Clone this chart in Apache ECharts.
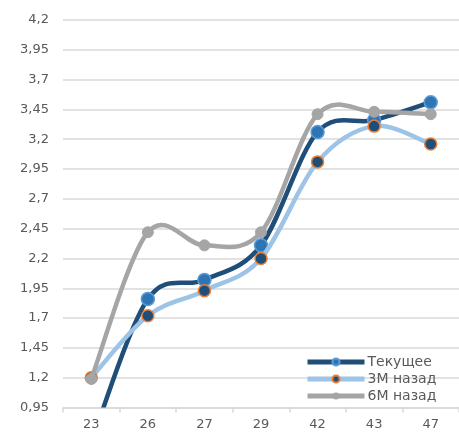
<!DOCTYPE html>
<html>
<head>
<meta charset="utf-8">
<script src="https://cdn.jsdelivr.net/npm/echarts@6/dist/echarts.min.js"></script>
<style>
  html, body { margin: 0; padding: 0; background: #fff; }
  #chart { width: 459px; height: 432px; }
</style>
</head>
<body>
<div id="chart"></div>
<script>
// Maturity buckets along the x axis
const categories = ['23', '26', '27', '29', '42', '43', '47'];

// Yield curves: current, three months ago, six months ago
const current = [0.66, 1.86, 2.02, 2.31, 3.26, 3.36, 3.51];
const threeMonthsAgo = [1.2, 1.72, 1.93, 2.2, 3.01, 3.31, 3.16];
const sixMonthsAgo = [1.19, 2.42, 2.31, 2.42, 3.41, 3.43, 3.41];

const seriesNames = ['Текущее', '3М назад', '6М назад'];

const chart = echarts.init(document.getElementById('chart'), null, { renderer: 'canvas' });

const font = '"DejaVu Sans", sans-serif';

// Catmull-Rom spline through the points, one cubic segment per data item,
// positioned with the chart's own axes via api.coord.
function splineSegments(values, color, width) {
  const n = values.length;
  const at = k => {
    const j = Math.max(0, Math.min(n - 1, k));
    return [j, values[j]];
  };
  return function (params, api) {
    const i = params.dataIndex;
    if (i >= n - 1) return null;
    const p0 = api.coord(at(i - 1));
    const p1 = api.coord(at(i));
    const p2 = api.coord(at(i + 1));
    const p3 = api.coord(at(i + 2));
    return {
      type: 'bezierCurve',
      shape: {
        x1: p1[0], y1: p1[1],
        x2: p2[0], y2: p2[1],
        cpx1: p1[0] + (p2[0] - p0[0]) / 6,
        cpy1: p1[1] + (p2[1] - p0[1]) / 6,
        cpx2: p2[0] - (p3[0] - p1[0]) / 6,
        cpy2: p2[1] - (p3[1] - p1[1]) / 6
      },
      style: { stroke: color, lineWidth: width, fill: 'none', lineCap: 'round', lineJoin: 'round' }
    };
  };
}

function curveSeries(name, values, color, z) {
  return {
    name: name,
    type: 'custom',
    clip: true,
    silent: true,
    z: z,
    data: values.map((v, i) => [i, v]),
    encode: { x: 0, y: 1 },
    renderItem: splineSegments(values, color, 4.5)
  };
}

function markerSeries(name, values, color, marker, z) {
  return {
    name: name,
    type: 'line',
    data: values,
    z: z,
    clip: true,
    symbol: 'circle',
    symbolSize: marker.size,
    lineStyle: { color: color, width: 4.5, opacity: 0 },
    itemStyle: { color: marker.fill, borderColor: marker.border, borderWidth: marker.borderWidth }
  };
}

const palette = {
  current: '#1f4e79',
  three: '#9dc3e6',
  six: '#a5a5a5'
};

chart.setOption({
  animation: false,
  backgroundColor: '#ffffff',
  grid: { left: 63, right: -7, top: 20, bottom: 24.5, containLabel: false },
  legend: {
    orient: 'vertical',
    left: 300,
    top: 350,
    itemWidth: 57,
    itemHeight: 9,
    itemGap: 3,
    lineStyle: { width: 5, opacity: 1 },
    textStyle: { color: '#595959', fontSize: 14, fontFamily: font, padding: [0, 0, 0, -2] },
    data: [
      { name: seriesNames[0] },
      { name: seriesNames[1] },
      { name: seriesNames[2], itemStyle: { borderWidth: 0 } }
    ]
  },
  xAxis: {
    type: 'category',
    data: categories,
    boundaryGap: true,
    axisLine: { show: true, lineStyle: { color: '#d9d9d9', width: 1.5 } },
    axisTick: { show: true, length: 5, lineStyle: { color: '#d9d9d9', width: 1.5 } },
    axisLabel: { color: '#595959', fontSize: 13, fontFamily: font, margin: 11 },
    splitLine: { show: false }
  },
  yAxis: {
    type: 'value',
    min: 0.95,
    max: 4.2,
    interval: 0.25,
    axisLine: { show: false },
    axisTick: { show: false },
    axisLabel: {
      color: '#595959',
      fontSize: 13,
      fontFamily: font,
      margin: 14,
      formatter: v => String(Math.round(v * 100) / 100).replace('.', ',')
    },
    splitLine: { show: true, lineStyle: { color: '#d9d9d9', width: 1.5 } }
  },
  series: [
    markerSeries(seriesNames[0], current, palette.current,
      { size: 13, fill: '#2e75b6', border: '#5b9bd5', borderWidth: 1.5 }, 2),
    markerSeries(seriesNames[1], threeMonthsAgo, palette.three,
      { size: 12, fill: '#1f4e79', border: '#ed7d31', borderWidth: 1.5 }, 4),
    markerSeries(seriesNames[2], sixMonthsAgo, palette.six,
      { size: 11, fill: '#a5a5a5', border: '#a5a5a5', borderWidth: 1 }, 6),
    curveSeries(seriesNames[0], current, palette.current, 1),
    curveSeries(seriesNames[1], threeMonthsAgo, palette.three, 3),
    curveSeries(seriesNames[2], sixMonthsAgo, palette.six, 5)
  ]
});
</script>
</body>
</html>
